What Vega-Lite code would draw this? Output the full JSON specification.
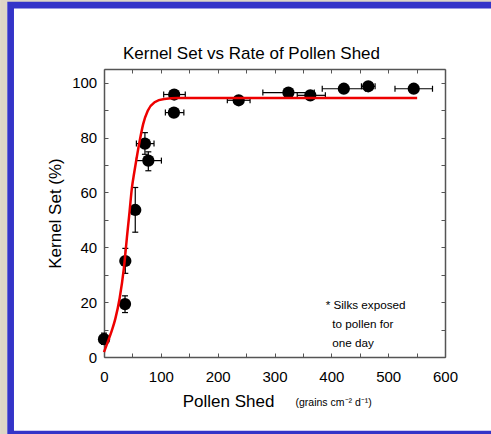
{
  "$schema": "https://vega.github.io/schema/vega-lite/v6.json",
  "width": 341,
  "height": 288,
  "autosize": {"type": "none"},
  "padding": {"left": 104, "top": 69, "right": 46, "bottom": 77},
  "background": "white",
  "title": {
    "text": "Kernel Set vs Rate of Pollen Shed",
    "fontSize": 17,
    "fontWeight": "normal",
    "font": "Liberation Sans",
    "color": "black",
    "anchor": "middle",
    "frame": "group",
    "dx": -23,
    "baseline": "alphabetic",
    "offset": -80.6
  },
  "datasets": {
    "points": [
      {"x": 0, "y": 6.5, "ylo": 4.6, "yhi": 8.7},
      {"x": 37, "y": 19.3, "ylo": 16.2, "yhi": 22.3},
      {"x": 37.5, "y": 35, "ylo": 30.5, "yhi": 39.6},
      {"x": 55, "y": 53.6, "ylo": 45.5, "yhi": 61.8},
      {"x": 72, "y": 77.8, "xlo": 57, "xhi": 88, "ylo": 73.9, "yhi": 81.8},
      {"x": 78, "y": 71.6, "xlo": 57, "xhi": 101, "ylo": 67.9, "yhi": 74.8},
      {"x": 123.5, "y": 95.7, "xlo": 105, "xhi": 143},
      {"x": 123, "y": 89.1, "xlo": 108, "xhi": 140.5},
      {"x": 237, "y": 93.6, "xlo": 217, "xhi": 257},
      {"x": 324.5, "y": 96.4, "xlo": 279.5, "xhi": 370},
      {"x": 363, "y": 95.4, "xlo": 340, "xhi": 389.5},
      {"x": 422, "y": 97.8, "xlo": 384, "xhi": 460},
      {"x": 465, "y": 98.7, "xlo": 453, "xhi": 477},
      {"x": 545, "y": 97.8, "xlo": 512, "xhi": 578}
    ],
    "curve": [
      {"x": 0, "y": 1.8},
      {"x": 7, "y": 5.7},
      {"x": 14, "y": 9.8},
      {"x": 20, "y": 14},
      {"x": 27.6, "y": 21.5},
      {"x": 35, "y": 32.4},
      {"x": 41, "y": 45},
      {"x": 45, "y": 53},
      {"x": 49, "y": 61.5},
      {"x": 53, "y": 67},
      {"x": 57, "y": 72},
      {"x": 63, "y": 79},
      {"x": 69, "y": 85},
      {"x": 77, "y": 89.8},
      {"x": 89, "y": 92.9},
      {"x": 106, "y": 94.1},
      {"x": 130, "y": 94.4},
      {"x": 551, "y": 94.4}
    ],
    "notes": [
      {"label": "* Silks exposed", "x": 390, "y": 17.5},
      {"label": "to pollen for", "x": 401.7, "y": 10.5},
      {"label": "one day", "x": 401.7, "y": 3.75}
    ],
    "units": [
      {"label": "(grains cm⁻² d⁻¹)", "x": 337, "y": -17.9}
    ]
  },
  "config": {
    "font": "Liberation Sans",
    "view": {"stroke": null},
    "axis": {
      "grid": false,
      "domainColor": "#555555",
      "domainWidth": 1.5,
      "tickColor": "#555555",
      "tickWidth": 1,
      "tickSize": -4,
      "labelFontSize": 15,
      "labelColor": "black",
      "labelFont": "Liberation Sans",
      "labelFlush": false,
      "labelOverlap": false,
      "titleFont": "Liberation Sans",
      "titleFontWeight": "normal",
      "titleColor": "black",
      "titleFontSize": 17
    }
  },
  "resolve": {"axis": {"x": "independent", "y": "independent"}},
  "layer": [
    {
      "data": {"values": [{}]},
      "mark": {"type": "rect", "filled": false, "color": "#ddd6c6", "strokeWidth": 7},
      "encoding": {
        "x": {"datum": -176.7, "type": "quantitative", "scale": {"domain": [0, 600], "nice": false, "zero": false}, "axis": null},
        "x2": {"datum": 760},
        "y": {"datum": 130.6, "type": "quantitative", "scale": {"domain": [0, 105], "nice": false, "zero": false}, "axis": null},
        "y2": {"datum": -40}
      }
    },
    {
      "data": {"values": [{}]},
      "mark": {"type": "rect", "filled": false, "color": "#3434c8", "strokeWidth": 6.7},
      "encoding": {
        "x": {"datum": -164.3, "type": "quantitative", "scale": {"domain": [0, 600], "nice": false, "zero": false}, "axis": null},
        "x2": {"datum": 720},
        "y": {"datum": 128.3, "type": "quantitative", "scale": {"domain": [0, 105], "nice": false, "zero": false}, "axis": null},
        "y2": {"datum": -28.1}
      }
    },
    {
      "data": {"name": "points"},
      "transform": [{"filter": "datum.xlo != null"}],
      "mark": {"type": "rule", "color": "black", "strokeWidth": 1.2},
      "encoding": {
        "x": {"field": "xlo", "type": "quantitative", "scale": {"domain": [0, 600], "nice": false, "zero": false}, "axis": null},
        "x2": {"field": "xhi"},
        "y": {"field": "y", "type": "quantitative", "scale": {"domain": [0, 105], "nice": false, "zero": false}, "axis": null}
      }
    },
    {
      "data": {"name": "points"},
      "transform": [{"filter": "datum.ylo != null"}],
      "mark": {"type": "rule", "color": "black", "strokeWidth": 1.2},
      "encoding": {
        "x": {"field": "x", "type": "quantitative", "scale": {"domain": [0, 600], "nice": false, "zero": false}, "axis": null},
        "y": {"field": "ylo", "type": "quantitative", "scale": {"domain": [0, 105], "nice": false, "zero": false}, "axis": null},
        "y2": {"field": "yhi"}
      }
    },
    {
      "data": {"name": "points"},
      "transform": [{"filter": "datum.xlo != null"}],
      "mark": {"type": "tick", "orient": "vertical", "color": "black", "size": 6, "thickness": 1.2, "opacity": 1},
      "encoding": {
        "x": {"field": "xlo", "type": "quantitative", "scale": {"domain": [0, 600], "nice": false, "zero": false}, "axis": null},
        "y": {"field": "y", "type": "quantitative", "scale": {"domain": [0, 105], "nice": false, "zero": false}, "axis": null}
      }
    },
    {
      "data": {"name": "points"},
      "transform": [{"filter": "datum.xhi != null"}],
      "mark": {"type": "tick", "orient": "vertical", "color": "black", "size": 6, "thickness": 1.2, "opacity": 1},
      "encoding": {
        "x": {"field": "xhi", "type": "quantitative", "scale": {"domain": [0, 600], "nice": false, "zero": false}, "axis": null},
        "y": {"field": "y", "type": "quantitative", "scale": {"domain": [0, 105], "nice": false, "zero": false}, "axis": null}
      }
    },
    {
      "data": {"name": "points"},
      "transform": [{"filter": "datum.ylo != null"}],
      "mark": {"type": "tick", "orient": "horizontal", "color": "black", "size": 6, "thickness": 1.2, "opacity": 1},
      "encoding": {
        "x": {"field": "x", "type": "quantitative", "scale": {"domain": [0, 600], "nice": false, "zero": false}, "axis": null},
        "y": {"field": "ylo", "type": "quantitative", "scale": {"domain": [0, 105], "nice": false, "zero": false}, "axis": null}
      }
    },
    {
      "data": {"name": "points"},
      "transform": [{"filter": "datum.yhi != null"}],
      "mark": {"type": "tick", "orient": "horizontal", "color": "black", "size": 6, "thickness": 1.2, "opacity": 1},
      "encoding": {
        "x": {"field": "x", "type": "quantitative", "scale": {"domain": [0, 600], "nice": false, "zero": false}, "axis": null},
        "y": {"field": "yhi", "type": "quantitative", "scale": {"domain": [0, 105], "nice": false, "zero": false}, "axis": null}
      }
    },
    {
      "data": {"name": "points"},
      "mark": {"type": "circle", "color": "black", "size": 150, "opacity": 1},
      "encoding": {
        "x": {"field": "x", "type": "quantitative", "scale": {"domain": [0, 600], "nice": false, "zero": false},
          "axis": {"orient": "top", "values": [0, 50, 100, 150, 200, 250, 300, 350, 400, 450, 500, 550, 600], "labels": false, "title": null}},
        "y": {"field": "y", "type": "quantitative", "scale": {"domain": [0, 105], "nice": false, "zero": false},
          "axis": {"orient": "right", "values": [0, 10, 20, 30, 40, 50, 60, 70, 80, 90, 100], "labels": false, "title": null}}
      }
    },
    {
      "data": {"name": "curve"},
      "mark": {"type": "line", "color": "#ee0000", "strokeWidth": 2.5, "interpolate": "monotone"},
      "encoding": {
        "x": {"field": "x", "type": "quantitative", "scale": {"domain": [0, 600], "nice": false, "zero": false},
          "axis": {"orient": "bottom", "values": [0, 50, 100, 150, 200, 250, 300, 350, 400, 450, 500, 550, 600],
            "labelExpr": "datum.value % 100 === 0 ? datum.label : ''", "labelPadding": 16,
            "title": "Pollen Shed", "titleX": 124, "titleY": 49.7, "titleBaseline": "alphabetic", "titleAlign": "center"}},
        "y": {"field": "y", "type": "quantitative", "scale": {"domain": [0, 105], "nice": false, "zero": false},
          "axis": {"orient": "left", "values": [0, 10, 20, 30, 40, 50, 60, 70, 80, 90, 100],
            "labelExpr": "datum.value % 20 === 0 ? datum.label : ''", "labelPadding": 11.3,
            "title": "Kernel Set (%)", "titleX": -44, "titleY": 144, "titleAngle": -90, "titleBaseline": "alphabetic", "titleAlign": "center"}}
      }
    },
    {
      "data": {"name": "notes"},
      "mark": {"type": "text", "align": "left", "baseline": "alphabetic", "fontSize": 11.7, "color": "black", "font": "Liberation Sans"},
      "encoding": {
        "x": {"field": "x", "type": "quantitative", "scale": {"domain": [0, 600], "nice": false, "zero": false}, "axis": null},
        "y": {"field": "y", "type": "quantitative", "scale": {"domain": [0, 105], "nice": false, "zero": false}, "axis": null},
        "text": {"field": "label"}
      }
    },
    {
      "data": {"name": "units"},
      "mark": {"type": "text", "align": "left", "baseline": "alphabetic", "fontSize": 10.5, "color": "black", "font": "Liberation Sans"},
      "encoding": {
        "x": {"field": "x", "type": "quantitative", "scale": {"domain": [0, 600], "nice": false, "zero": false}, "axis": null},
        "y": {"field": "y", "type": "quantitative", "scale": {"domain": [0, 105], "nice": false, "zero": false}, "axis": null},
        "text": {"field": "label"}
      }
    }
  ]
}
